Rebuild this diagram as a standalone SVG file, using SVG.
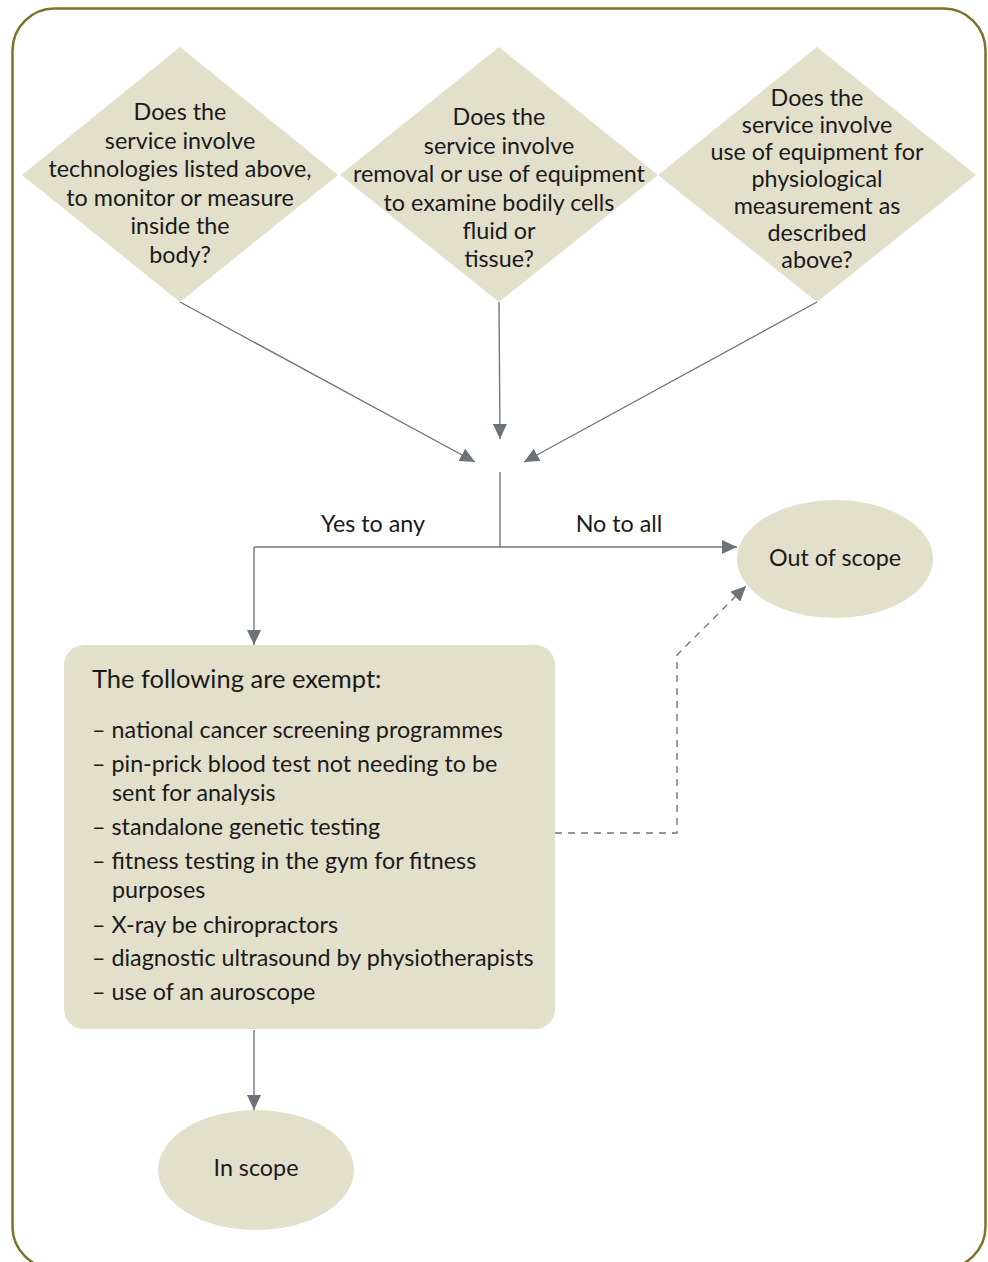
<svg xmlns="http://www.w3.org/2000/svg" width="988" height="1262" viewBox="0 0 988 1262">
<defs>
<style>
.node{fill:#e2dfcb;}
.t{font-family:Lato,"Liberation Sans",sans-serif;font-size:23.3px;fill:#1a1a1a;}
.c{text-anchor:middle;}
.ln{fill:none;stroke:#72767a;stroke-width:1.4;}
.dash{stroke-dasharray:7,6;}
</style>
<marker id="ah" markerUnits="userSpaceOnUse" markerWidth="16" markerHeight="14" refX="15" refY="7" orient="auto">
<path d="M0,0 L15,7 L0,14 z" fill="#6d7278"/>
</marker>
</defs>
<rect x="12.5" y="8.5" width="973" height="1260" rx="42" ry="42" fill="#fff" stroke="#7d7328" stroke-width="2.5"/>

<g id="d1">
<polygon class="node" points="180,47 338,175 180,302 22,175"/>
<text class="t c" x="180" y="120">Does the</text>
<text class="t c" x="180" y="148.5">service involve</text>
<text class="t c" x="180" y="177">technologies listed above,</text>
<text class="t c" x="180" y="205.5">to monitor or measure</text>
<text class="t c" x="180" y="234">inside the</text>
<text class="t c" x="180" y="262.5">body?</text>
</g>
<g id="d2">
<polygon class="node" points="499,47 658,175 499,302 340,175"/>
<text class="t c" x="499" y="125">Does the</text>
<text class="t c" x="499" y="153.5">service involve</text>
<text class="t c" x="499" y="182">removal or use of equipment</text>
<text class="t c" x="499" y="210.5">to examine bodily cells</text>
<text class="t c" x="499" y="239">fluid or</text>
<text class="t c" x="499" y="267">tissue?</text>
</g>
<g id="d3">
<polygon class="node" points="817,47 976,175 817,302 658,175"/>
<text class="t c" x="817" y="106">Does the</text>
<text class="t c" x="817" y="133">service involve</text>
<text class="t c" x="817" y="160">use of equipment for</text>
<text class="t c" x="817" y="187">physiological</text>
<text class="t c" x="817" y="214">measurement as</text>
<text class="t c" x="817" y="241">described</text>
<text class="t c" x="817" y="268">above?</text>
</g>

<g id="connectors">
<line class="ln" x1="180" y1="302" x2="475" y2="462" marker-end="url(#ah)"/>
<line class="ln" x1="499" y1="302" x2="500" y2="439" marker-end="url(#ah)"/>
<line class="ln" x1="817" y1="302" x2="524" y2="462" marker-end="url(#ah)"/>
<line class="ln" x1="500" y1="472" x2="500" y2="547"/>
<line class="ln" x1="254" y1="547" x2="737" y2="547" marker-end="url(#ah)"/>
<line class="ln" x1="254" y1="547" x2="254" y2="645" marker-end="url(#ah)"/>
<line class="ln" x1="254" y1="1030" x2="254" y2="1110" marker-end="url(#ah)"/>
<path class="ln dash" d="M555,833 H677 V655 L746,586" marker-end="url(#ah)"/>
<text class="t c" x="373" y="532">Yes to any</text>
<text class="t c" x="619" y="532">No to all</text>
</g>

<g id="exempt">
<rect class="node" x="64" y="645" width="491" height="384" rx="20" ry="20"/>
<text class="t" x="92" y="688" style="font-size:25.5px">The following are exempt:</text>
<text class="t" x="92" y="738">– national cancer screening programmes</text>
<text class="t" x="92" y="772">– pin-prick blood test not needing to be</text>
<text class="t" x="112" y="801">sent for analysis</text>
<text class="t" x="92" y="835">– standalone genetic testing</text>
<text class="t" x="92" y="869">– fitness testing in the gym for fitness</text>
<text class="t" x="112" y="898">purposes</text>
<text class="t" x="92" y="933">– X-ray be chiropractors</text>
<text class="t" x="92" y="966">– diagnostic ultrasound by physiotherapists</text>
<text class="t" x="92" y="1000">– use of an auroscope</text>
</g>

<g id="out">
<ellipse class="node" cx="835" cy="559" rx="98" ry="59"/>
<text class="t c" x="835" y="566">Out of scope</text>
</g>
<g id="in">
<ellipse class="node" cx="256" cy="1170" rx="98" ry="60"/>
<text class="t c" x="256" y="1176">In scope</text>
</g>
</svg>
